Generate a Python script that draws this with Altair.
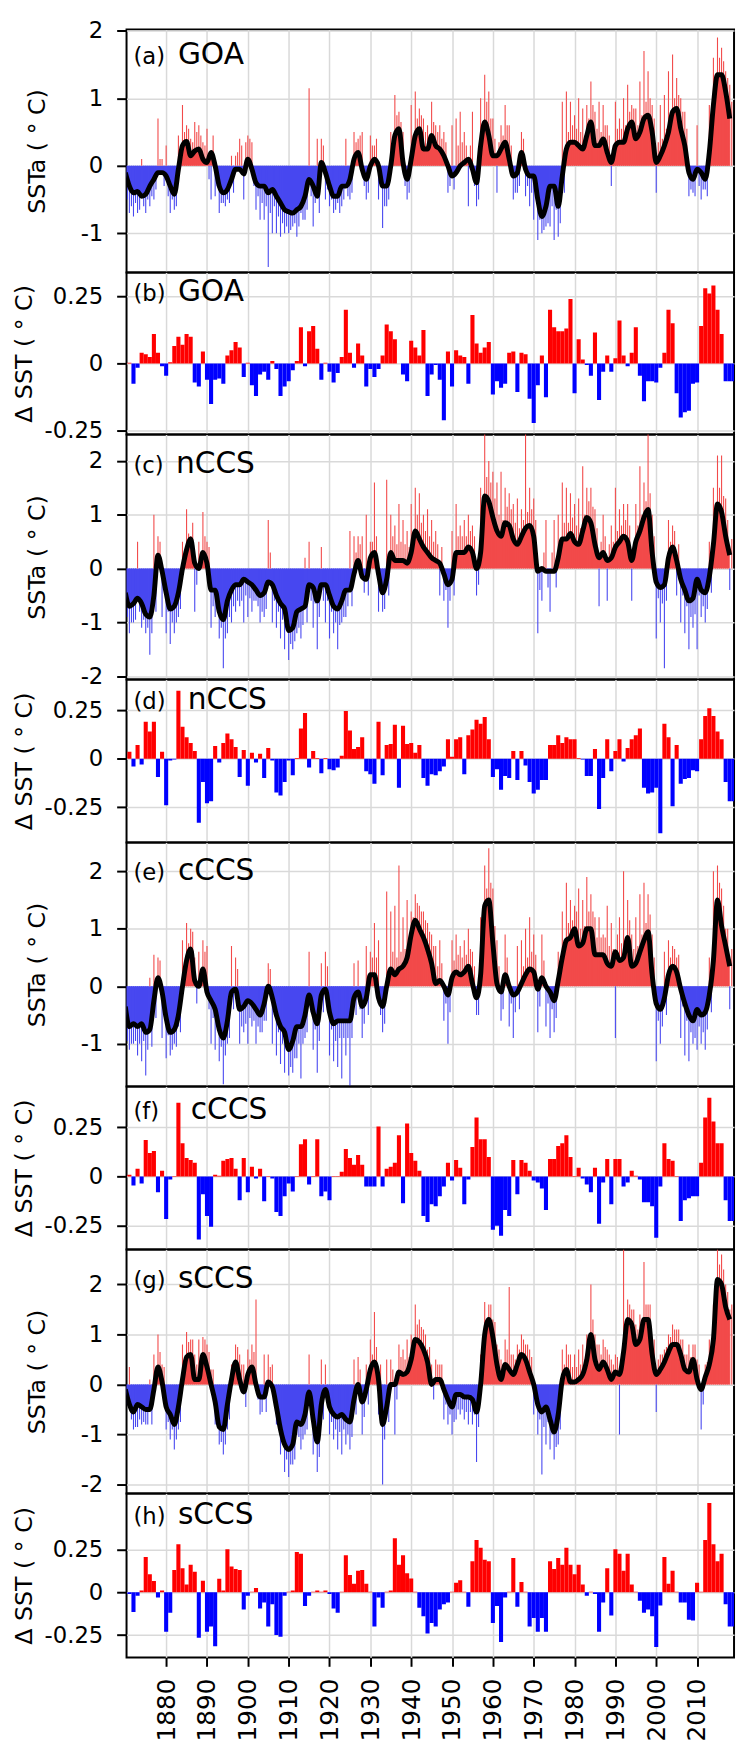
import altair as alt
import pandas as pd
import numpy as np

YEARS = list(range(1870, 2019))     # monthly-series panels (annual reading)
DYEARS = list(range(1871, 2020))    # centres of the annual delta bars

# (a) GOA SSTa: smoothed curve, largest monthly spike and a second spike per year
A_SMOOTH = [-0.1, -0.3, -0.4, -0.38, -0.45, -0.42, -0.3, -0.2, -0.1, -0.1,
            -0.15, -0.3, -0.42, -0.05, 0.3, 0.36, 0.15, 0.22, 0.25, 0.1,
            0.05, 0.2, 0.0, -0.3, -0.4, -0.35, -0.2, -0.05, -0.05, -0.12,
            0.1, -0.05, -0.25, -0.3, -0.3, -0.4, -0.35, -0.45, -0.55, -0.65,
            -0.68, -0.7, -0.65, -0.6, -0.45, -0.2, -0.3, -0.45, 0.05, -0.1,
            -0.3, -0.45, -0.45, -0.3, -0.3, -0.2, 0.1, 0.2, -0.05, -0.2,
            0.0, 0.1, 0.0, -0.3, -0.3, 0.0, 0.45, 0.55, 0.05, -0.2,
            0.1, 0.45, 0.55, 0.25, 0.25, 0.45, 0.3, 0.25, 0.15, 0.0,
            -0.15, -0.1, 0.0, 0.05, 0.1, -0.05, -0.25, 0.3, 0.65, 0.45,
            0.15, 0.15, 0.25, 0.35, 0.1, -0.15, -0.1, 0.2, -0.05, -0.15,
            -0.15, -0.5, -0.75, -0.6, -0.3, -0.3, -0.6, -0.15, 0.25, 0.35,
            0.35, 0.3, 0.25, 0.45, 0.65, 0.3, 0.3, 0.4, 0.2, 0.05,
            0.3, 0.35, 0.35, 0.55, 0.65, 0.4, 0.5, 0.7, 0.75, 0.5,
            0.05, 0.15, 0.3, 0.5, 0.8, 0.85, 0.55, 0.3, -0.1, -0.2,
            -0.05, -0.1, -0.2, 0.2, 0.9, 1.35, 1.35, 1.1, 0.7]
A_SPIKE = [-1.2, -0.7, -0.75, -0.7, 0.1, -0.7, -0.6, -0.5, 0.7, 0.1,
           0.3, -0.7, -0.65, 0.45, 0.9, 0.6, 0.4, 0.65, 0.6, 0.35,
           0.55, -0.5, -0.45, -0.7, -0.55, -0.5, 0.15, 0.15, 0.4, -0.5,
           0.45, 0.35, -0.65, -0.8, -0.8, -1.5, -1.0, -1.0, -1.05, -1.0,
           -1.0, -0.9, -1.05, -0.7, -0.8, 1.15, -0.9, 0.4, 0.4, -0.5,
           -0.6, -0.7, -0.55, -0.6, 0.4, -0.5, 0.5, 0.4, 0.5, -0.5,
           0.45, 0.3, -0.5, -0.92, -0.6, 0.5, 1.05, 0.8, 0.5, -0.5,
           0.9, 1.1, 0.85, 0.7, 0.6, 0.95, 0.6, 0.6, 0.5, -0.4,
           0.6, 0.7, 0.8, 0.5, -0.6, 0.8, -0.6, 1.0, 1.35, 1.1,
           0.7, -0.4, 0.6, 0.9, 0.6, -0.5, -0.4, 0.5, -0.45, -0.6,
           -0.8, -1.1, -1.0, -0.9, -0.9, -1.1, -1.05, 0.95, 1.1, 0.95,
           0.75, 1.0, 0.85, 0.9, 1.25, 0.8, 0.95, 0.9, 0.6, -0.3,
           0.95, 0.7, 1.0, 1.2, 0.9, 0.85, 1.25, 1.7, 1.4, 0.9,
           -0.4, 0.9, 1.05, 1.4, 1.65, 1.3, 1.0, 0.8, -0.45, -0.4,
           0.6, -0.5, -0.35, 0.9, 1.6, 1.9, 1.75, 1.4, 1.2]
A_SPIKE2 = [-0.5, -0.6, -0.55, -0.65, -0.6, -0.5, -0.45, -0.35, 0.1, -0.3,
            -0.45, -0.5, -0.6, 0.2, 0.5, 0.55, 0.35, 0.5, 0.45, 0.3,
            -0.2, 0.45, -0.3, -0.55, -0.6, -0.55, -0.4, 0.2, 0.3, 0.35,
            0.4, -0.3, -0.45, -0.55, -0.6, -0.7, -0.6, -0.75, -0.85, -0.9,
            -0.95, -0.85, -0.9, -0.8, -0.65, -0.45, -0.55, -0.7, 0.3, -0.35,
            -0.5, -0.65, -0.7, -0.5, -0.45, -0.4, 0.35, 0.45, -0.3, -0.4,
            0.3, 0.4, -0.3, -0.6, -0.5, 0.3, 0.75, 0.65, -0.3, -0.4,
            0.45, 0.7, 0.75, 0.5, 0.45, 0.65, 0.5, 0.4, 0.35, -0.3,
            -0.35, 0.3, 0.35, 0.3, 0.3, -0.3, -0.5, 0.6, 0.95, 0.7,
            0.4, 0.35, 0.45, 0.6, 0.3, -0.4, -0.3, 0.4, -0.3, -0.4,
            -0.45, -0.8, -0.95, -0.85, -0.6, -0.65, -0.85, -0.4, 0.5, 0.6,
            0.55, 0.5, 0.45, 0.7, 0.9, 0.55, 0.5, 0.6, 0.45, 0.3,
            0.55, 0.55, 0.6, 0.8, 0.85, 0.6, 0.75, 0.95, 1.0, 0.7,
            0.35, 0.4, 0.55, 0.75, 1.0, 1.05, 0.8, 0.55, -0.35, -0.45,
            -0.3, -0.35, -0.45, 0.45, 1.15, 1.6, 1.55, 1.3, 0.95]
# (b) GOA delta SST
B_DELTA = [0.003, -0.075, -0.015, 0.04, 0.035, 0.025, 0.11, 0.04, -0.01, -0.045,
           0.005, 0.065, 0.1, 0.07, 0.11, 0.1, -0.07, -0.085, 0.045, -0.06,
           -0.15, -0.06, -0.055, -0.075, 0.03, 0.05, 0.08, 0.06, -0.05, 0.003,
           -0.08, -0.12, -0.04, -0.03, -0.06, 0.01, -0.02, -0.12, -0.085, -0.065,
           -0.025, 0.01, 0.135, -0.01, 0.12, 0.14, 0.055, -0.06, 0.003, -0.03,
           -0.07, -0.035, 0.025, 0.2, 0.04, -0.015, 0.075, 0.03, -0.085, -0.02,
           -0.05, -0.02, 0.03, 0.145, 0.12, 0.09, 0.0, -0.04, -0.065, 0.085,
           0.06, 0.03, 0.125, -0.12, -0.04, -0.005, -0.06, -0.21, 0.045, -0.085,
           0.05, 0.03, 0.025, -0.075, 0.18, 0.075, 0.04, 0.06, 0.08, -0.115,
           -0.065, -0.09, -0.075, 0.04, 0.045, -0.105, 0.04, 0.035, -0.13, -0.22,
           -0.08, 0.03, -0.125, 0.2, 0.135, 0.12, 0.12, 0.13, 0.24, -0.11,
           0.09, 0.015, -0.005, -0.045, 0.115, -0.135, -0.03, 0.03, -0.03, 0.02,
           0.16, 0.03, -0.01, 0.04, 0.135, -0.045, -0.14, -0.065, -0.065, -0.07,
           -0.015, 0.04, 0.2, 0.15, -0.11, -0.2, -0.18, -0.175, -0.075, -0.07,
           0.14, 0.28, 0.26, 0.29, 0.2, 0.11, -0.065, -0.065, -0.065]
# (c) nCCS SSTa
C_SMOOTH = [-0.45, -0.7, -0.65, -0.55, -0.65, -0.85, -0.9, -0.5, 0.25, -0.05,
            -0.45, -0.75, -0.7, -0.45, 0.0, 0.35, 0.55, 0.1, 0.0, 0.3,
            0.1, -0.4, -0.4, -0.8, -0.95, -0.6, -0.4, -0.3, -0.3, -0.2,
            -0.25, -0.3, -0.4, -0.5, -0.45, -0.25, -0.3, -0.5, -0.65, -0.75,
            -1.15, -1.1, -0.8, -0.75, -0.7, -0.3, -0.35, -0.6, -0.3, -0.3,
            -0.5, -0.7, -0.75, -0.6, -0.4, -0.4, -0.1, 0.15, -0.15, -0.2,
            0.2, 0.3, -0.1, -0.45, -0.2, 0.3, 0.15, 0.15, 0.15, 0.1,
            0.3, 0.7, 0.55, 0.4, 0.3, 0.2, 0.15, 0.1, -0.1, -0.3,
            -0.2, 0.3, 0.3, 0.3, 0.4, 0.3, 0.0, 0.3, 1.35, 1.25,
            0.95, 0.7, 0.6, 0.85, 0.8, 0.55, 0.45, 0.6, 0.75, 0.8,
            0.6, -0.05, 0.0, -0.05, -0.05, -0.05, 0.2, 0.55, 0.55, 0.65,
            0.5, 0.45, 0.7, 0.95, 0.85, 0.45, 0.2, 0.3, 0.15, 0.2,
            0.4, 0.5, 0.6, 0.5, 0.15, 0.5, 0.7, 0.95, 1.1, 0.3,
            -0.25, -0.35, -0.3, 0.2, 0.4, 0.15, -0.2, -0.4, -0.6, -0.55,
            -0.2, -0.4, -0.45, -0.15, 0.45, 1.2, 1.05, 0.6, 0.25]
C_SPIKE = [-1.9, -1.2, -1.0, 0.5, -1.1, -1.2, -1.6, 1.0, 0.6, -0.9,
           -1.2, -1.4, -1.2, -0.9, 0.5, 1.1, 0.6, -0.8, 0.5, 1.05,
           0.5, -1.1, -0.9, -1.3, -1.85, -1.2, -1.0, -0.8, -0.7, -1.0,
           -0.9, -0.8, -0.6, -1.0, -0.9, 0.9, -1.0, -1.1, -1.3, -1.5,
           -1.7, -1.5, -1.2, -1.3, 0.2, 0.5, -1.1, -1.5, 0.4, -1.0,
           -1.3, -1.2, -1.5, -1.0, -0.9, 0.7, 0.6, 0.6, 0.6, 1.0,
           0.5, 1.6, -0.8, -0.8, 1.65, 1.0, 0.8, 1.2, 0.9, 0.7,
           1.2, 1.5, 1.4, 1.0, 1.1, 0.9, 0.7, -0.5, -0.6, -1.1,
           0.7, 1.2, 0.8, 0.9, 1.0, 0.8, -0.5, 1.5, 2.5, 2.0,
           1.8, 1.6, 1.8, 1.5, 1.4, 1.2, 1.3, 1.1, 2.5, 1.5,
           1.3, -1.2, -0.6, 0.9, -0.8, 0.9, 1.0, 1.6, 1.5, 1.4,
           1.2, 1.3, 1.9, 1.5, 1.5, 1.1, -0.7, 1.0, -0.6, 0.8,
           1.5, 1.1, 1.2, 1.2, -0.6, 1.2, 1.9, 1.6, 2.5, 1.0,
           -1.3, -1.0, -1.85, 0.9, 0.8, -0.5, -1.0, -1.2, -1.5, -1.1,
           -1.5, -0.9, -1.0, 0.5, 1.5, 2.1, 2.1, 1.3, -0.4]
C_SPIKE2 = [-0.9, -1.0, -0.95, -0.8, -0.95, -1.1, -1.2, -0.8, 0.5, -0.4,
            -0.8, -1.0, -1.0, -0.75, 0.3, 0.65, 0.85, -0.3, 0.3, 0.6,
            0.4, -0.7, -0.7, -1.1, -1.3, -0.9, -0.7, -0.6, -0.6, -0.5,
            -0.55, -0.6, -0.7, -0.8, -0.75, 0.3, -0.6, -0.8, -0.95, -1.05,
            -1.4, -1.35, -1.1, -1.05, -1.0, -0.6, -0.65, -0.9, -0.6, -0.6,
            -0.8, -1.0, -1.05, -0.9, -0.7, -0.7, 0.3, 0.45, -0.45, -0.5,
            0.5, 0.6, -0.4, -0.75, -0.5, 0.6, 0.45, 0.5, 0.45, 0.4,
            0.6, 1.0, 0.85, 0.7, 0.6, 0.5, 0.45, 0.4, -0.4, -0.6,
            -0.5, 0.6, 0.6, 0.6, 0.7, 0.6, -0.3, 0.6, 1.7, 1.6,
            1.3, 1.0, 0.9, 1.15, 1.1, 0.85, 0.75, 0.9, 1.05, 1.1,
            0.9, -0.4, 0.3, -0.35, 0.3, -0.35, 0.5, 0.85, 0.85, 0.95,
            0.8, 0.75, 1.0, 1.25, 1.15, 0.75, 0.5, 0.6, 0.45, 0.5,
            0.7, 0.8, 0.9, 0.8, 0.45, 0.8, 1.0, 1.25, 1.4, 0.6,
            -0.55, -0.65, -0.6, 0.5, 0.7, 0.45, -0.5, -0.7, -0.9, -0.85,
            -0.5, -0.7, -0.75, -0.45, 0.75, 1.5, 1.35, 0.9, 0.55]
# (d) nCCS delta SST
D_DELTA = [0.035, -0.04, 0.07, -0.03, 0.19, 0.14, 0.19, -0.095, 0.035, -0.24,
           -0.01, -0.005, 0.35, 0.165, 0.11, 0.08, 0.04, -0.33, -0.12, -0.23,
           -0.22, 0.065, -0.02, 0.08, 0.13, 0.1, 0.06, -0.095, 0.045, -0.14,
           0.03, -0.02, 0.025, -0.1, 0.055, -0.01, -0.175, -0.19, -0.12, -0.01,
           -0.085, 0.003, 0.155, 0.235, -0.045, 0.04, 0.003, -0.075, 0.003, -0.055,
           -0.06, -0.045, 0.015, 0.245, 0.145, 0.05, 0.06, 0.11, -0.065, -0.08,
           -0.13, 0.19, -0.085, 0.07, 0.075, 0.175, -0.15, 0.17, 0.075, 0.08,
           0.03, 0.07, -0.1, -0.14, -0.08, -0.085, -0.065, -0.04, 0.1, 0.01,
           0.1, 0.11, -0.08, 0.12, 0.15, 0.2, 0.18, 0.215, 0.1, -0.095,
           -0.055, -0.16, -0.09, -0.1, 0.04, -0.11, 0.04, -0.035, -0.12, -0.18,
           -0.16, -0.11, -0.11, 0.07, 0.07, 0.12, 0.08, 0.11, 0.1, 0.1,
           0.003, -0.005, -0.09, -0.09, 0.05, -0.26, -0.1, 0.1, -0.065, 0.04,
           0.1, -0.015, 0.055, 0.1, 0.12, 0.155, -0.15, -0.18, -0.175, -0.15,
           -0.385, 0.18, 0.11, -0.245, 0.07, -0.13, -0.105, -0.1, -0.06, -0.065,
           0.1, 0.22, 0.26, 0.22, 0.14, 0.1, -0.12, -0.22, -0.22]
# (e) cCCS SSTa
E_SMOOTH = [-0.35, -0.7, -0.65, -0.7, -0.65, -0.8, -0.75, -0.25, 0.15, -0.1,
            -0.55, -0.8, -0.75, -0.5, 0.0, 0.45, 0.65, 0.1, 0.0, 0.3,
            -0.1, -0.25, -0.4, -0.75, -0.9, -0.6, -0.1, -0.05, -0.4, -0.35,
            -0.25, -0.3, -0.4, -0.5, -0.3, 0.0, -0.2, -0.5, -0.7, -0.8,
            -1.1, -0.95, -0.7, -0.7, -0.5, -0.15, -0.45, -0.65, -0.15, -0.05,
            -0.45, -0.65, -0.6, -0.6, -0.6, -0.6, -0.2, -0.1, -0.35, -0.2,
            0.2, 0.2, -0.2, -0.35, 0.0, 0.3, 0.2, 0.3, 0.35, 0.5,
            0.9, 1.15, 1.0, 0.85, 0.65, 0.4, 0.05, 0.1, 0.0, -0.15,
            0.15, 0.25, 0.2, 0.25, 0.35, 0.05, -0.2, 0.2, 1.4, 1.5,
            0.75, 0.05, -0.1, 0.2, 0.0, -0.15, -0.1, 0.05, 0.2, 0.3,
            0.25, -0.05, 0.15, 0.0, -0.1, -0.25, 0.1, 0.5, 0.8, 0.85,
            1.0, 0.7, 0.75, 1.0, 1.0, 0.55, 0.55, 0.55, 0.4, 0.35,
            0.6, 0.45, 0.5, 0.85, 0.35, 0.4, 0.6, 0.8, 0.95, 0.2,
            -0.3, -0.4, -0.2, 0.2, 0.35, 0.25, -0.05, -0.3, -0.5, -0.6,
            -0.4, -0.5, -0.45, -0.15, 0.45, 1.5, 1.05, 0.7, 0.35]
E_SPIKE = [-1.55, -1.1, -1.0, -1.2, -1.3, -1.55, 0.15, 0.55, 0.5, -0.9,
           -1.25, -1.2, -1.0, -0.7, 0.8, 1.1, 1.0, 0.5, 0.6, 0.8,
           0.7, -1.0, -1.1, -1.3, -1.7, -1.0, 0.7, 0.5, -1.0, -0.8,
           -1.0, -0.7, -1.0, -0.8, -0.6, 0.4, -1.0, -1.2, -1.35, -1.5,
           -1.55, -1.5, -1.25, -1.6, -0.9, 0.6, -1.1, -1.5, 0.4, 0.6,
           -1.2, -1.3, -1.4, -1.6, -1.2, -1.75, 0.4, 0.45, -0.9, 0.7,
           0.6, 1.1, 0.8, -0.8, 1.65, 1.3, 1.4, 2.1, 1.2, 1.5,
           1.3, 1.6, 1.4, 1.3, 1.1, 0.9, 0.7, 0.8, -0.6, -1.0,
           0.8, 0.9, 0.7, 0.8, 1.0, 0.6, -0.5, 1.2, 2.1, 2.4,
           1.7, 0.8, -0.6, 0.9, -0.7, -0.9, 0.7, 0.8, 1.0, 1.2,
           0.9, -0.8, 0.9, -0.7, -0.9, -0.8, 0.6, 1.3, 1.8, 1.5,
           1.4, 1.7, 1.5, 1.9, 1.6, 1.2, 1.2, 0.9, 1.4, 1.1,
           -0.9, 1.2, 2.0, 1.5, 0.9, 1.2, 1.6, 1.8, 1.6, 0.9,
           -1.3, -1.0, 0.6, 0.8, 0.7, 0.5, -0.9, -1.2, -1.3, -1.0,
           -1.1, -1.0, -1.1, 0.5, 2.0, 2.1, 1.7, 1.0, -0.4]
E_SPIKE2 = [-0.95, -1.0, -0.95, -1.0, -0.95, -1.1, -1.05, -0.55, 0.45, -0.4,
            -0.85, -1.1, -1.05, -0.8, 0.3, 0.75, 0.95, -0.3, 0.3, 0.6,
            -0.4, -0.55, -0.7, -1.05, -1.2, -0.9, -0.4, 0.3, -0.7, -0.65,
            -0.55, -0.6, -0.7, -0.8, -0.6, 0.3, -0.5, -0.8, -1.0, -1.1,
            -1.4, -1.25, -1.0, -1.0, -0.8, -0.45, -0.75, -0.95, -0.45, 0.35,
            -0.75, -0.95, -0.9, -0.9, -0.9, -0.9, -0.5, -0.4, -0.65, -0.5,
            0.5, 0.5, -0.5, -0.65, 0.3, 0.6, 0.5, 0.6, 0.65, 0.8,
            1.2, 1.45, 1.3, 1.15, 0.95, 0.7, 0.35, 0.4, -0.3, -0.45,
            0.45, 0.55, 0.5, 0.55, 0.65, 0.35, -0.5, 0.5, 1.7, 1.8,
            1.05, 0.35, -0.4, 0.5, -0.3, -0.45, -0.4, 0.35, 0.5, 0.6,
            0.55, -0.35, 0.45, -0.3, -0.4, -0.55, 0.4, 0.8, 1.1, 1.15,
            1.3, 1.0, 1.05, 1.3, 1.3, 0.85, 0.85, 0.85, 0.7, 0.65,
            0.9, 0.75, 0.8, 1.15, 0.65, 0.7, 0.9, 1.1, 1.25, 0.5,
            -0.6, -0.7, -0.5, 0.5, 0.65, 0.55, -0.35, -0.6, -0.8, -0.9,
            -0.7, -0.8, -0.75, -0.45, 0.75, 1.8, 1.4, 1.0, 0.65]
# (f) cCCS delta SST
F_DELTA = [0.01, -0.045, 0.04, -0.035, 0.186, 0.12, 0.13, -0.08, 0.03, -0.215,
           -0.015, 0.003, 0.375, 0.17, 0.095, 0.085, 0.07, -0.32, -0.09, -0.2,
           -0.255, 0.01, 0.005, 0.08, 0.09, 0.095, 0.04, -0.12, 0.095, -0.08,
           0.05, -0.01, 0.04, -0.125, 0.003, -0.01, -0.18, -0.2, -0.1, -0.035,
           -0.075, 0.003, 0.165, 0.19, -0.04, 0.003, 0.19, -0.1, -0.075, -0.12,
           0.003, 0.003, 0.025, 0.14, 0.095, 0.06, 0.11, 0.06, -0.05, -0.05,
           -0.05, 0.255, -0.05, 0.04, 0.05, 0.07, 0.21, -0.135, 0.27, 0.12,
           0.08, 0.03, -0.2, -0.23, -0.14, -0.15, -0.1, -0.05, 0.07, -0.02,
           0.085, 0.045, -0.14, -0.015, 0.15, 0.3, 0.19, 0.19, 0.1, -0.27,
           -0.25, -0.3, -0.17, -0.2, 0.085, -0.09, 0.085, 0.07, 0.03, -0.02,
           -0.03, -0.06, -0.17, 0.09, 0.09, 0.155, 0.17, 0.21, 0.1, 0.003,
           0.045, -0.01, -0.04, -0.08, 0.045, -0.24, -0.03, 0.09, -0.14, 0.09,
           0.09, -0.05, -0.03, 0.03, 0.005, -0.015, -0.13, -0.13, -0.15, -0.31,
           -0.05, 0.17, 0.09, 0.08, 0.003, -0.225, -0.12, -0.11, -0.1, -0.1,
           0.07, 0.3, 0.4, 0.28, 0.17, 0.17, -0.12, -0.225, -0.225]
# (g) sCCS SSTa
G_SMOOTH = [-0.1, -0.4, -0.55, -0.4, -0.45, -0.5, -0.5, -0.1, 0.35, 0.05,
            -0.45, -0.6, -0.8, -0.45, 0.1, 0.55, 0.6, 0.1, 0.1, 0.6,
            0.35, 0.0, -0.35, -0.85, -0.9, -0.4, 0.1, 0.45, 0.1, -0.15,
            0.2, 0.35, 0.0, -0.25, -0.25, 0.05, -0.05, -0.45, -0.9, -1.2,
            -1.3, -1.2, -0.75, -0.8, -0.6, -0.15, -0.7, -1.15, -0.4, -0.1,
            -0.45, -0.6, -0.65, -0.6, -0.7, -0.75, -0.3, 0.0, -0.35, -0.1,
            0.3, 0.45, 0.1, -0.8, -0.45, 0.0, 0.0, 0.25, 0.2, 0.25,
            0.5, 0.9, 0.85, 0.7, 0.45, 0.0, 0.1, 0.1, -0.1, -0.3,
            -0.45, -0.2, -0.2, -0.25, -0.25, -0.3, -0.55, 0.0, 1.0, 1.3,
            0.95, 0.4, 0.1, 0.4, 0.3, 0.2, 0.4, 0.6, 0.5, 0.25,
            0.0, -0.4, -0.55, -0.45, -0.7, -0.95, -0.6, 0.1, 0.3, 0.05,
            0.05, 0.1, 0.2, 0.5, 1.0, 0.5, 0.3, 0.45, 0.3, 0.1,
            0.25, 0.2, 0.65, 1.3, 1.2, 0.8, 0.9, 1.3, 1.3, 0.6,
            0.2, 0.3, 0.45, 0.65, 0.8, 0.8, 0.6, 0.3, 0.25, 0.5,
            0.1, -0.1, 0.15, 0.4, 0.9, 2.1, 2.0, 1.55, 1.3]
G_SPIKE = [-0.8, 0.35, -0.9, -0.85, -0.8, -0.8, 0.1, 0.6, 1.0, 0.4,
           -0.9, -1.1, -1.3, -0.9, 0.8, 1.05, 0.9, 0.6, 0.9, 0.95,
           0.8, 0.3, -0.8, -1.2, -1.4, -0.9, 0.4, 0.8, 0.6, 0.4,
           0.7, 0.8, 1.7, -0.6, 0.6, 0.6, 0.4, -0.8, -1.4, -1.75,
           -1.85, -1.6, -1.0, -1.3, -1.0, 0.6, -1.4, -1.75, 0.5, 0.4,
           -1.0, -1.1, -1.3, -1.4, -1.2, -1.3, 0.5, 0.55, -1.0, 0.4,
           0.9, 1.45, -0.6, -2.0, 0.5, 0.5, -1.0, 0.8, 0.7, 0.9,
           1.0, 1.6, 1.3, 1.1, 0.7, 0.4, 0.5, 0.4, -0.7, -0.8,
           -1.0, -0.7, -0.6, -0.7, -0.8, -0.8, -1.55, 0.6, 1.65, 1.6,
           1.3, 0.8, 0.5, 0.9, 1.95, 0.6, 0.8, 1.0, 0.8, 0.7,
           -0.6, -1.0, -1.8, -1.2, -1.3, -1.5, -1.2, 0.7, 0.8, 0.6,
           0.6, 0.7, 0.8, 1.0, 2.0, 1.0, 0.8, 0.9, 0.7, 0.5,
           0.6, -1.0, 2.7, 1.7, 1.5, 1.2, 1.4, 2.45, 1.6, 0.9,
           -0.55, 0.6, 0.7, 1.0, 1.2, 1.1, 0.9, 0.6, 0.8, 0.8,
           0.5, -0.9, 0.4, 0.9, 1.6, 2.7, 2.6, 2.0, 1.5]
G_SPIKE2 = [-0.4, -0.7, -0.85, -0.7, -0.75, -0.8, -0.8, 0.2, 0.65, 0.35,
            -0.75, -0.9, -1.1, -0.75, 0.4, 0.85, 0.9, 0.4, 0.4, 0.9,
            0.65, 0.3, -0.65, -1.15, -1.2, -0.7, 0.4, 0.75, 0.4, -0.45,
            0.5, 0.65, -0.3, -0.55, -0.55, 0.35, -0.35, -0.75, -1.2, -1.5,
            -1.6, -1.5, -1.05, -1.1, -0.9, -0.45, -1.0, -1.45, -0.7, -0.4,
            -0.75, -0.9, -0.95, -0.9, -1.0, -1.05, -0.6, 0.3, -0.65, -0.4,
            0.6, 0.75, 0.4, -1.1, -0.75, 0.3, -0.3, 0.55, 0.5, 0.55,
            0.8, 1.2, 1.15, 1.0, 0.75, -0.3, 0.4, 0.4, -0.4, -0.6,
            -0.75, -0.5, -0.5, -0.55, -0.55, -0.6, -0.85, 0.3, 1.3, 1.6,
            1.25, 0.7, 0.4, 0.7, 0.6, 0.5, 0.7, 0.9, 0.8, 0.55,
            -0.3, -0.7, -0.85, -0.75, -1.0, -1.25, -0.9, 0.4, 0.6, 0.35,
            0.35, 0.4, 0.5, 0.8, 1.3, 0.8, 0.6, 0.75, 0.6, 0.4,
            0.55, 0.5, 0.95, 1.6, 1.5, 1.1, 1.2, 1.6, 1.6, 0.9,
            0.5, 0.6, 0.75, 0.95, 1.1, 1.1, 0.9, 0.6, 0.55, 0.8,
            0.4, -0.4, 0.45, 0.7, 1.2, 2.4, 2.3, 1.85, 1.6]
# (h) sCCS delta SST
H_DELTA = [-0.01, -0.115, -0.02, 0.01, 0.205, 0.105, 0.065, -0.03, 0.01, -0.23,
           -0.12, 0.13, 0.28, 0.14, 0.045, 0.16, 0.12, -0.265, 0.067, -0.23,
           -0.2, -0.315, 0.078, 0.01, 0.25, 0.15, 0.135, 0.13, -0.1, -0.02,
           0.003, 0.025, -0.095, -0.06, -0.2, -0.07, -0.25, -0.26, -0.02, 0.003,
           0.01, 0.235, 0.225, -0.08, -0.02, 0.003, 0.01, 0.003, 0.01, -0.01,
           -0.095, -0.12, 0.003, 0.215, 0.1, 0.05, 0.125, 0.13, 0.05, 0.003,
           -0.2, -0.03, -0.09, 0.003, 0.01, 0.315, 0.16, 0.215, 0.11, 0.08,
           0.003, -0.09, -0.14, -0.24, -0.18, -0.2, -0.1, -0.07, -0.06, 0.003,
           0.055, 0.07, 0.003, -0.085, 0.18, 0.305, 0.26, 0.19, 0.18, -0.18,
           -0.08, -0.29, -0.03, 0.003, 0.2, -0.085, 0.06, 0.003, -0.2, -0.15,
           -0.23, -0.15, -0.23, 0.18, 0.135, 0.2, 0.16, 0.26, 0.16, 0.105,
           0.16, 0.045, -0.02, 0.003, -0.01, -0.23, -0.06, 0.14, -0.135, 0.25,
           0.225, 0.125, 0.225, 0.045, 0.003, -0.05, -0.12, -0.1, -0.14, -0.32,
           -0.077, 0.205, 0.05, 0.125, 0.003, -0.06, -0.06, -0.16, -0.165, 0.055,
           0.003, 0.305, 0.52, 0.28, 0.18, 0.225, -0.07, -0.2, -0.2]

for arr in [A_SMOOTH, A_SPIKE, A_SPIKE2, B_DELTA, C_SMOOTH, C_SPIKE, C_SPIKE2, D_DELTA,
            E_SMOOTH, E_SPIKE, E_SPIKE2, F_DELTA, G_SMOOTH, G_SPIKE, G_SPIKE2, H_DELTA]:
    assert len(arr) == 149, len(arr)

FONT = "DejaVu Sans"
RED_FILL, BLUE_FILL = "#f24a4a", "#4848f0"
RED, BLUE = "#ff0000", "#0000ff"
XDOM = [1870.3, 2019.05]
W = 615
DECADES = list(range(1880, 2011, 10))
SST_TITLE = "SSTa ( \u00b0 C)"
D_TITLE = "\u0394 SST ( \u00b0 C)"


def xenc(field, bottom):
    if bottom:
        ax = alt.Axis(values=DECADES, labelExpr="toString(datum.value)", labelAngle=270,
                      labelFontSize=25, labelPadding=12, tickSize=9, grid=True,
                      domain=False, title=None)
    else:
        ax = alt.Axis(values=DECADES, labels=False, ticks=False, grid=True,
                      domain=False, title=None)
    return alt.X(field, type="quantitative",
                 scale=alt.Scale(domain=XDOM, nice=False, zero=False), axis=ax)


def yenc(field, dom, ticks, title, title_x):
    return alt.Y(field, type="quantitative",
                 scale=alt.Scale(domain=dom, nice=False, zero=False),
                 axis=alt.Axis(values=ticks, labelExpr="toString(datum.value)", title=title,
                               titleX=title_x, grid=True, domain=False, tickSize=10,
                               labelPadding=14))


def labels(tag, name, name_x, base_y):
    t1 = alt.Chart(pd.DataFrame({"t": [tag]})).mark_text(
        font=FONT, fontSize=23, align="left", baseline="alphabetic", color="black"
    ).encode(x=alt.value(7), y=alt.value(base_y), text="t:N")
    t2 = alt.Chart(pd.DataFrame({"t": [name]})).mark_text(
        font=FONT, fontSize=30, align="left", baseline="alphabetic", color="black"
    ).encode(x=alt.value(name_x), y=alt.value(base_y), text="t:N")
    return [t1, t2]


def sst_panel(smooth, spikes, spikes2, dom, ticks, h, tag, name, name_x, base_y):
    df = pd.DataFrame({"year": YEARS, "v": smooth, "spk": spikes})
    df["pos"] = df["v"].clip(lower=0)
    df["neg"] = df["v"].clip(upper=0)
    df["zero"] = 0.0
    df2 = pd.DataFrame({"year": [y + 0.5 for y in YEARS], "spk": spikes2, "zero": 0.0})
    base = alt.Chart(df)
    x = xenc("year", False)

    def y(field):
        return yenc(field, dom, ticks, SST_TITLE, -78)

    a_pos = base.mark_area(color=RED_FILL, interpolate="monotone", clip=True).encode(
        x=x, y=y("pos"), y2="zero")
    a_neg = base.mark_area(color=BLUE_FILL, interpolate="monotone", clip=True).encode(
        x=x, y=y("neg"), y2="zero")
    spk_color = alt.when(alt.datum.spk >= 0).then(alt.value(RED_FILL)).otherwise(alt.value(BLUE_FILL))
    spk = base.mark_rule(strokeWidth=1.1, clip=True).encode(
        x=x, y=y("spk"), y2="zero", color=spk_color)
    spk2 = alt.Chart(df2).mark_rule(strokeWidth=1.1, clip=True).encode(
        x=x, y=y("spk"), y2="zero", color=spk_color)
    line = base.mark_line(color="black", strokeWidth=5, interpolate="monotone",
                          strokeJoin="round", clip=True).encode(x=x, y=y("v"))
    return alt.layer(a_pos, a_neg, spk, spk2, line,
                     *labels(tag, name, name_x, base_y)).properties(width=W, height=h)


def delta_panel(vals, dom, h, tag, name, name_x, base_y, bottom=False):
    df = pd.DataFrame({"year": DYEARS, "d": vals})
    df["x0"] = df["year"] - 0.5
    df["x1"] = df["year"] + 0.5
    df["zero"] = 0.0
    bars = alt.Chart(df).mark_rect(clip=True).encode(
        x=xenc("x0", bottom), x2="x1",
        y=yenc("d", dom, [-0.25, 0, 0.25], D_TITLE, -91), y2="zero",
        color=alt.when(alt.datum.d >= 0).then(alt.value(RED)).otherwise(alt.value(BLUE)))
    return alt.layer(bars, *labels(tag, name, name_x, base_y)).properties(width=W, height=h)


panels = [
    sst_panel(A_SMOOTH, A_SPIKE, A_SPIKE2, [-1.58, 2.02], [-1, 0, 1, 2], 246, "(a)", "GOA", 52, 35),
    delta_panel(B_DELTA, [-0.263, 0.338], 164, "(b)", "GOA", 52, 29),
    sst_panel(C_SMOOTH, C_SPIKE, C_SPIKE2, [-2.06, 2.49], [-2, -1, 0, 1, 2], 248, "(c)", "nCCS", 50, 39),
    delta_panel(D_DELTA, [-0.432, 0.408], 165, "(d)", "nCCS", 62, 30),
    sst_panel(E_SMOOTH, E_SPIKE, E_SPIKE2, [-1.74, 2.50], [-1, 0, 1, 2], 247, "(e)", "cCCS", 52, 38),
    delta_panel(F_DELTA, [-0.37, 0.458], 165, "(f)", "cCCS", 65, 33),
    sst_panel(G_SMOOTH, G_SPIKE, G_SPIKE2, [-2.18, 2.70], [-2, -1, 0, 1, 2], 247, "(g)", "sCCS", 52, 39),
    delta_panel(H_DELTA, [-0.38, 0.576], 166, "(h)", "sCCS", 52, 31, bottom=True),
]

chart = alt.vconcat(*panels, spacing=0, bounds="flush").properties(
    padding={"left": 4, "top": 0, "right": 2, "bottom": 0}
).configure_view(
    stroke="black", strokeWidth=2
).configure_axis(
    labelFont=FONT, titleFont=FONT, labelFontSize=23, titleFontSize=24,
    titleFontWeight="normal", labelColor="black", titleColor="black",
    tickColor="black", tickWidth=2, gridColor="#d9d9d9", gridWidth=1.5
)

chart.save("out.html", embed_options={"renderer": "svg", "actions": False})
